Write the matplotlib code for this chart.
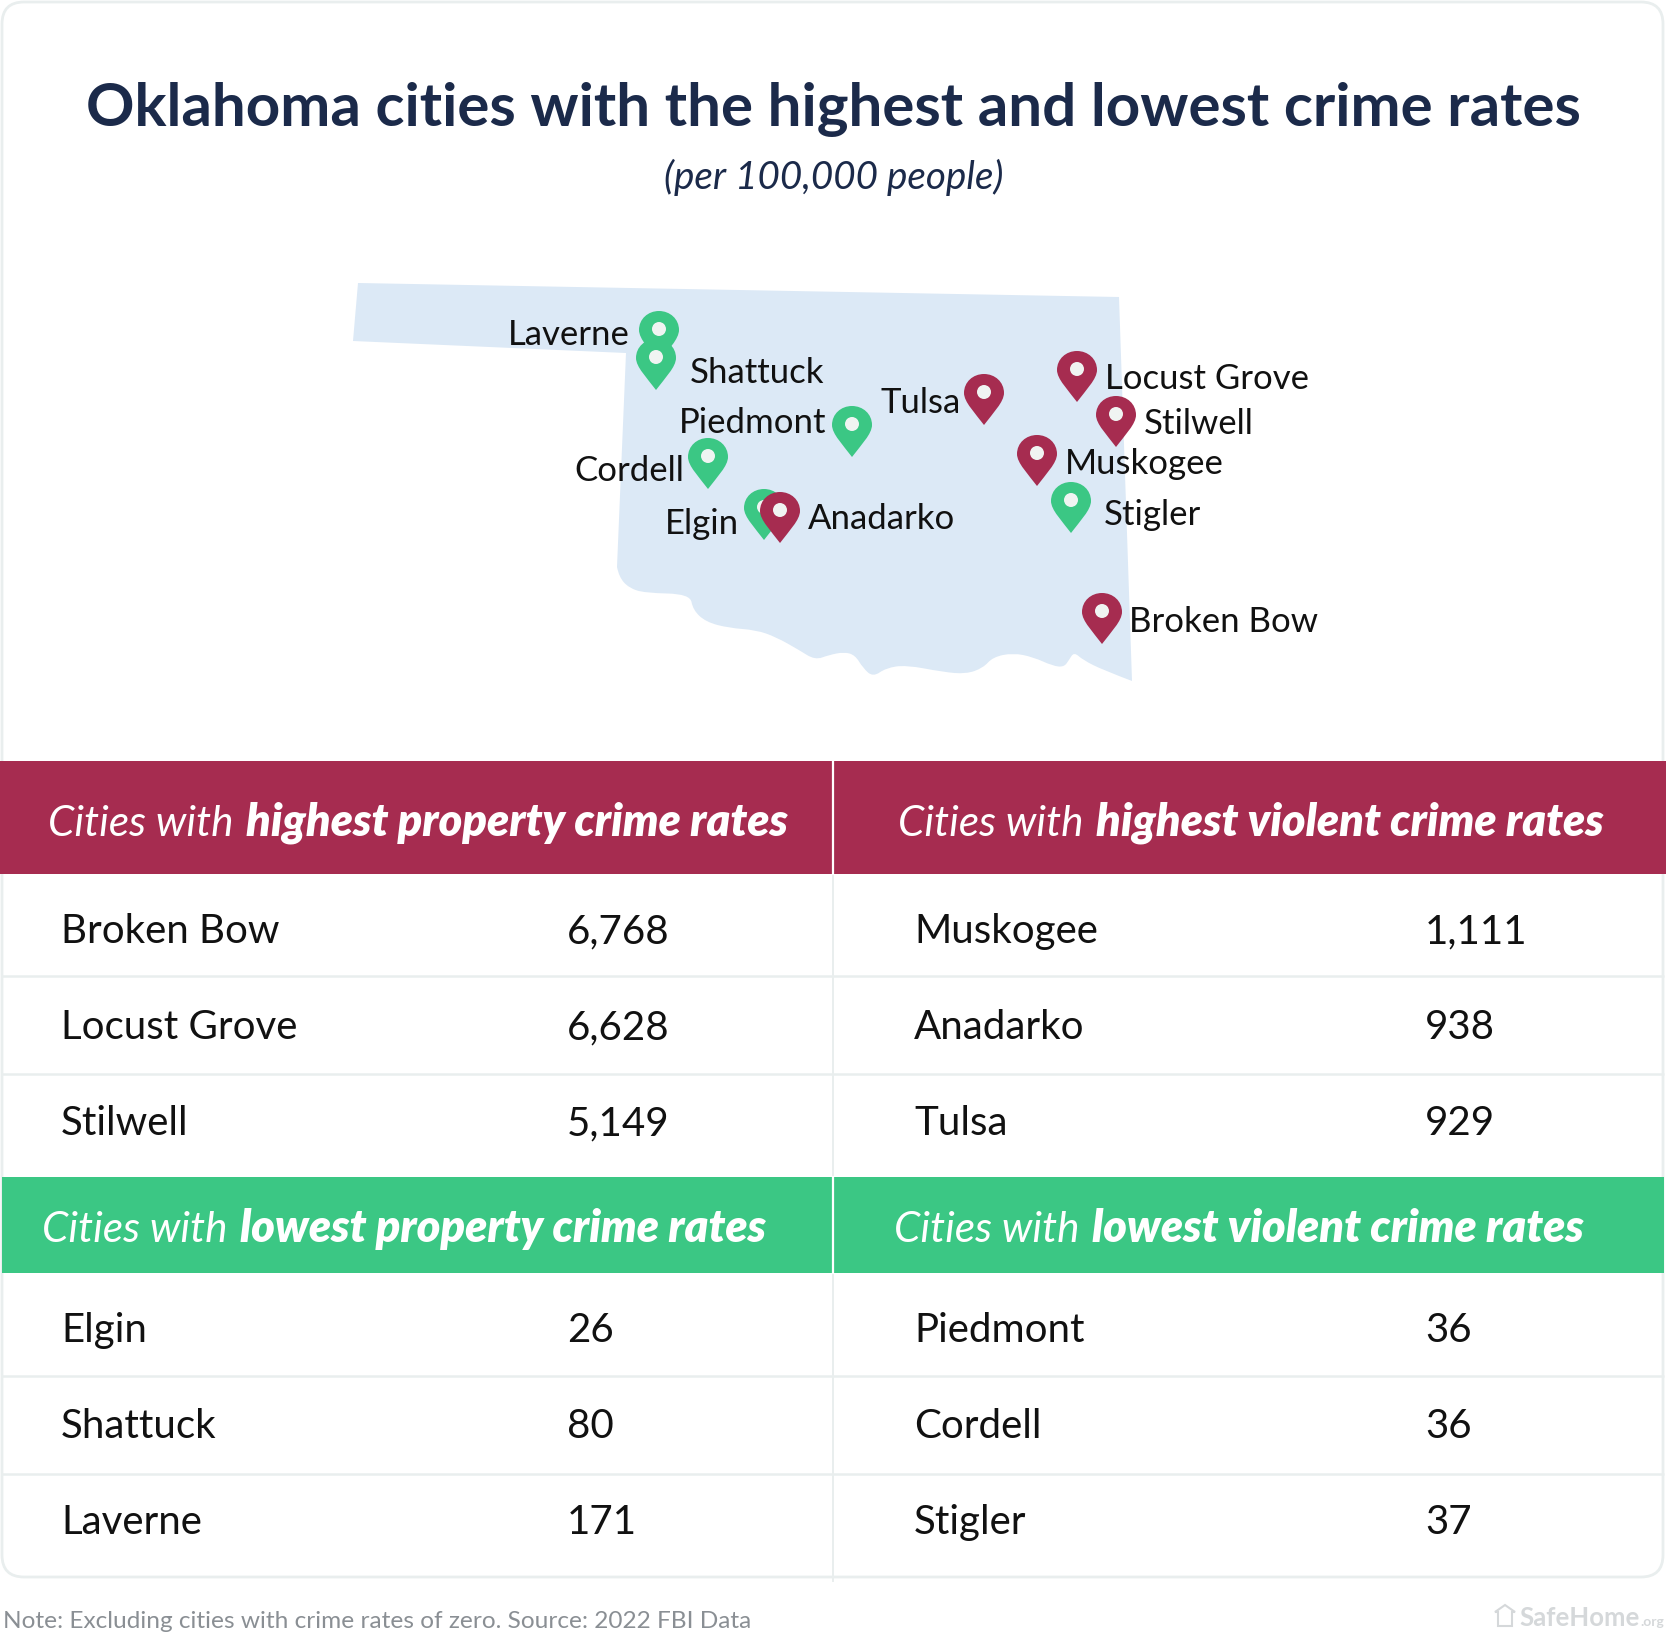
import matplotlib
matplotlib.use("Agg")
import matplotlib.pyplot as plt
from matplotlib.patches import FancyBboxPatch, PathPatch, Circle, Rectangle
from matplotlib.path import Path

plt.rcParams["font.family"] = ["Lato", "DejaVu Sans"]

W, H = 1666, 1638
NAVY = "#1b2a4a"
RED = "#a62c50"
GREEN = "#3bc784"
MAP_BLUE = "#dce9f6"
LINE = "#e9eeee"
INK = "#111111"

TITLE = "Oklahoma cities with the highest and lowest crime rates"
SUBTITLE = "(per 100,000 people)"
NOTE = "Note: Excluding cities with crime rates of zero. Source: 2022 FBI Data"

# tables
high_property = ["Broken Bow", "Locust Grove", "Stilwell"]
high_property_vals = ["6,768", "6,628", "5,149"]
high_violent = ["Muskogee", "Anadarko", "Tulsa"]
high_violent_vals = ["1,111", "938", "929"]
low_property = ["Elgin", "Shattuck", "Laverne"]
low_property_vals = ["26", "80", "171"]
low_violent = ["Piedmont", "Cordell", "Stigler"]
low_violent_vals = ["36", "36", "37"]

# state outline
outline_north = [(358, 283), (1119, 297), (1132, 681)]
outline_south = [(1103, 670), (1083, 660), (1074, 652), (1069, 660), (1064, 667), (1053, 666),
                 (1033, 657), (1013, 653), (993, 657), (983, 668), (966, 674), (943, 672),
                 (906, 665), (886, 668), (873, 677), (863, 668), (855, 655), (844, 652),
                 (829, 655), (815, 660), (799, 650), (776, 637), (756, 630), (729, 628),
                 (706, 622), (693, 610), (690, 594), (645, 593), (629, 588), (619, 577)]
outline_west = [(617, 567), (626, 353), (353, 341)]

# pins: name, tip x, tip y, colour; later ones sit on top
pin_names = ["Laverne", "Shattuck", "Tulsa", "Locust Grove", "Stilwell", "Piedmont",
             "Cordell", "Muskogee", "Stigler", "Elgin", "Anadarko", "Broken Bow"]
pin_x = [659, 656, 984, 1077, 1116, 852, 708, 1037, 1071, 764, 780, 1102]
pin_y = [362, 390, 425, 402, 447, 457, 489, 486, 533, 540, 543, 644]
pin_colors = [GREEN, GREEN, RED, RED, RED, GREEN, GREEN, RED, GREEN, GREEN, RED, RED]
label_x = [508, 690, 881, 1105, 1144, 679, 574, 1065, 1104, 665, 808, 1129]
label_y = [345, 383, 413, 389, 434, 433, 481, 474, 525, 534, 529, 632]


def draw_pin(ax, x, y, color):
    verts = [(0, 0),
             (-9, -12), (-20, -23), (-20, -32),
             (-20, -43), (-11, -51), (0, -51),
             (11, -51), (20, -43), (20, -32),
             (20, -23), (9, -12), (0, 0)]
    codes = [Path.MOVETO] + [Path.CURVE4] * 12
    shifted = [(x + vx, y + vy) for vx, vy in verts]
    ax.add_patch(PathPatch(Path(shifted, codes), fc=color, ec="none", zorder=4))
    ax.add_patch(Circle((x, y - 33), 7, fc="#f0f4f2", ec="none", zorder=4))


def draw_map(ax):
    verts = list(outline_north)
    codes = [Path.MOVETO, Path.LINETO, Path.LINETO]
    # smooth the river edge with quadratic pieces through midpoints
    for i, pt in enumerate(outline_south):
        if i == len(outline_south) - 1:
            end = outline_west[0]
        else:
            nxt = outline_south[i + 1]
            end = ((pt[0] + nxt[0]) / 2, (pt[1] + nxt[1]) / 2)
        verts += [pt, end]
        codes += [Path.CURVE3, Path.CURVE3]
    verts += outline_west[1:] + [outline_north[0]]
    codes += [Path.LINETO, Path.LINETO, Path.CLOSEPOLY]
    ax.add_patch(PathPatch(Path(verts, codes), fc=MAP_BLUE, ec="none", zorder=2))


def header_text(ax, fig, center, y, light, bold):
    # two styles on one line, so measure then place them side by side
    renderer = fig.canvas.get_renderer()
    t1 = ax.text(0, y, light, fontsize=30.4, style="italic", color="white",
                 va="center_baseline", zorder=5)
    t2 = ax.text(0, y - 1, bold, fontsize=32.4, style="italic", weight="heavy", color="white",
                 va="center_baseline", zorder=5)
    w1 = t1.get_window_extent(renderer).width
    w2 = t2.get_window_extent(renderer).width
    gap = 13
    left = center - (w1 + gap + w2) / 2
    t1.set_x(left)
    t2.set_x(left + w1 + gap)


fig = plt.figure(figsize=(W / 100, H / 100), dpi=100)
ax = fig.add_axes([0, 0, 1, 1])
ax.set_xlim(0, W)
ax.set_ylim(H, 0)
ax.axis("off")

# card
ax.add_patch(FancyBboxPatch((2, 2), W - 5, 1575, boxstyle="round,pad=0,rounding_size=22",
                            fc="white", ec=LINE, lw=2, zorder=1))

ax.text(833, 104, TITLE, fontsize=43.3, weight="bold", color=NAVY, ha="center",
        va="center_baseline", zorder=5)
ax.text(834, 174, SUBTITLE, fontsize=27.8, style="italic", color=NAVY, ha="center",
        va="center_baseline", zorder=5)

draw_map(ax)
for name, x, y, c, lx, ly in zip(pin_names, pin_x, pin_y, pin_colors, label_x, label_y):
    draw_pin(ax, x, y, c)
    ax.text(lx, ly, name, fontsize=25, color=INK, va="baseline", zorder=6)

# header bands
ax.add_patch(Rectangle((0, 761), W, 113, fc=RED, ec="none", zorder=3))
ax.add_patch(Rectangle((2, 1177), W - 4, 96, fc=GREEN, ec="none", zorder=3))

# grid lines
for y in [976, 1074, 1376, 1474]:
    ax.plot([2, W - 2], [y, y], color=LINE, lw=1.8, zorder=2, solid_capstyle="butt")
ax.plot([833, 833], [761, 1581], color=LINE, lw=1.4, zorder=2)
ax.plot([833, 833], [761, 874], color="white", lw=1.6, zorder=4)
ax.plot([833, 833], [1177, 1273], color="white", lw=1.6, zorder=4)

header_text(ax, fig, 418, 820, "Cities with", "highest property crime rates")
header_text(ax, fig, 1251, 820, "Cities with", "highest violent crime rates")
header_text(ax, fig, 404, 1226, "Cities with", "lowest property crime rates")
header_text(ax, fig, 1239, 1226, "Cities with", "lowest violent crime rates")

rows_top = [928, 1024, 1120]
rows_bottom = [1327, 1423, 1519]
tables = [
    (high_property, high_property_vals, 61, 567, rows_top),
    (high_violent, high_violent_vals, 914, 1425, rows_top),
    (low_property, low_property_vals, 61, 567, rows_bottom),
    (low_violent, low_violent_vals, 914, 1425, rows_bottom),
]
for names, vals, name_x, val_x, rows in tables:
    for name, val, y in zip(names, vals, rows):
        ax.text(name_x, y, name, fontsize=29, color=INK, va="center_baseline", zorder=5)
        ax.text(val_x, y, val, fontsize=29, color=INK, va="center_baseline", zorder=5)

# footer
ax.text(3, 1628, NOTE, fontsize=17.6, color="#8a8f94", va="baseline")
house = [(1495, 1612), (1505, 1605), (1515, 1612), (1512, 1612), (1512, 1626), (1498, 1626), (1498, 1612)]
ax.add_patch(plt.Polygon(house, closed=True, fc="none", ec="#d5d8da", lw=1.5))
ax.text(1519, 1626, "SafeHome", fontsize=18.5, weight="bold", color="#d5d8da", va="baseline")
ax.text(1640, 1626, ".org", fontsize=10, weight="bold", color="#d5d8da", va="baseline")

fig.savefig("out.png", dpi=100, facecolor="white")
